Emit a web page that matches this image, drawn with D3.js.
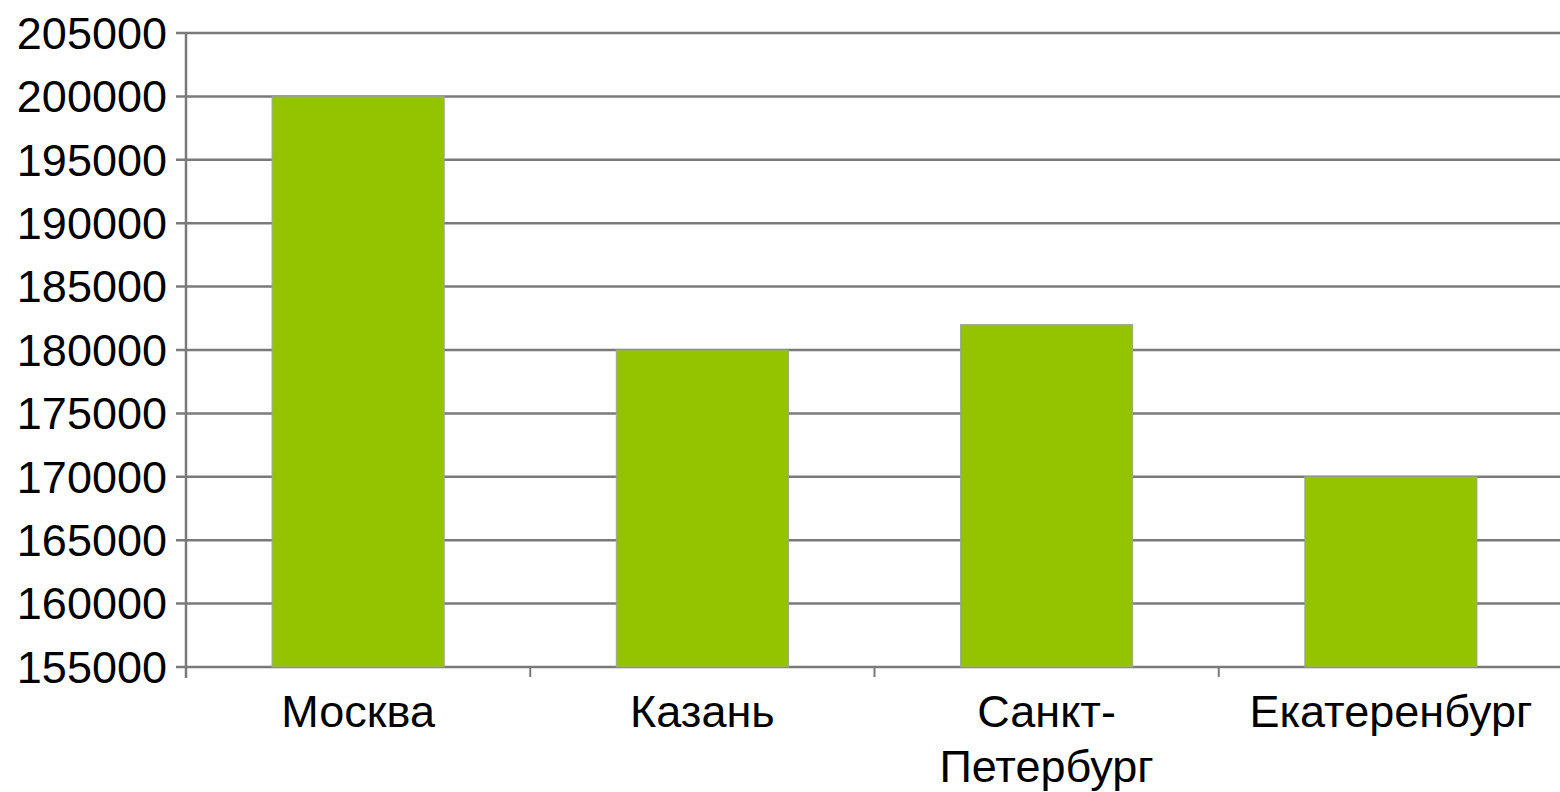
<!DOCTYPE html>
<html>
<head>
<meta charset="utf-8">
<script src="https://cdn.jsdelivr.net/npm/d3@7"></script>
<style>
html,body{margin:0;padding:0;background:#fff;}
svg{display:block;}
</style>
</head>
<body>
<script>
const categories = ["Москва", "Казань", "Санкт-\nПетербург", "Екатеренбург"];
const values = [200000, 180000, 182000, 170000];
const yTicks = [155000,160000,165000,170000,175000,180000,185000,190000,195000,200000,205000];

const W = 1560, H = 792;
const mLeft = 186, mTop = 33, mBottom = 667, mRight = 1563;

const svg = d3.select("body").append("svg").attr("width", W).attr("height", H);

const x = d3.scaleBand().domain(categories).range([mLeft, mRight]).paddingInner(0.5).paddingOuter(0.25);
const y = d3.scaleLinear().domain([155000, 205000]).range([mBottom, mTop]);

// gridlines
svg.append("g").selectAll("line").data(yTicks).join("line")
  .attr("x1", mLeft - 10).attr("x2", W)
  .attr("y1", d => y(d)).attr("y2", d => y(d))
  .attr("stroke", "#7a7a7a").attr("stroke-width", 2.5);

// bars
svg.append("g").selectAll("rect").data(values).join("rect")
  .attr("x", (d, i) => x(categories[i]))
  .attr("width", x.bandwidth())
  .attr("y", d => y(d))
  .attr("height", d => y(155000) - y(d))
  .attr("fill", "#94c400")
  .attr("stroke", "#9aa88a").attr("stroke-width", 1);

// y axis line
svg.append("line").attr("x1", mLeft).attr("x2", mLeft).attr("y1", mTop).attr("y2", mBottom + 11)
  .attr("stroke", "#7a7a7a").attr("stroke-width", 2.5);

// x ticks at band boundaries
const step = x.step();
const bounds = d3.range(categories.length + 1).map(i => mLeft + i * step);
svg.append("g").selectAll("line").data(bounds.slice(1)).join("line")
  .attr("x1", d => d).attr("x2", d => d).attr("y1", mBottom).attr("y2", mBottom + 10)
  .attr("stroke", "#7a7a7a").attr("stroke-width", 2);

// y labels
svg.append("g").selectAll("text").data(yTicks).join("text")
  .attr("x", 167).attr("y", d => y(d))
  .attr("dy", "0.35em")
  .attr("text-anchor", "end")
  .attr("font-family", "Liberation Sans, Arial, sans-serif")
  .attr("font-size", 45).attr("fill", "#000")
  .text(d => d);

// x labels
const xl = svg.append("g").selectAll("text").data(categories).join("text")
  .attr("x", d => x(d) + x.bandwidth() / 2)
  .attr("y", 727)
  .attr("text-anchor", "middle")
  .attr("font-family", "Liberation Sans, Arial, sans-serif")
  .attr("font-size", 45).attr("fill", "#000");
xl.each(function(d) {
  const lines = d.split("\n");
  const t = d3.select(this);
  lines.forEach((ln, i) => {
    t.append("tspan").attr("x", x(d) + x.bandwidth() / 2).attr("dy", i === 0 ? 0 : 55).text(ln);
  });
});
</script>
</body>
</html>
